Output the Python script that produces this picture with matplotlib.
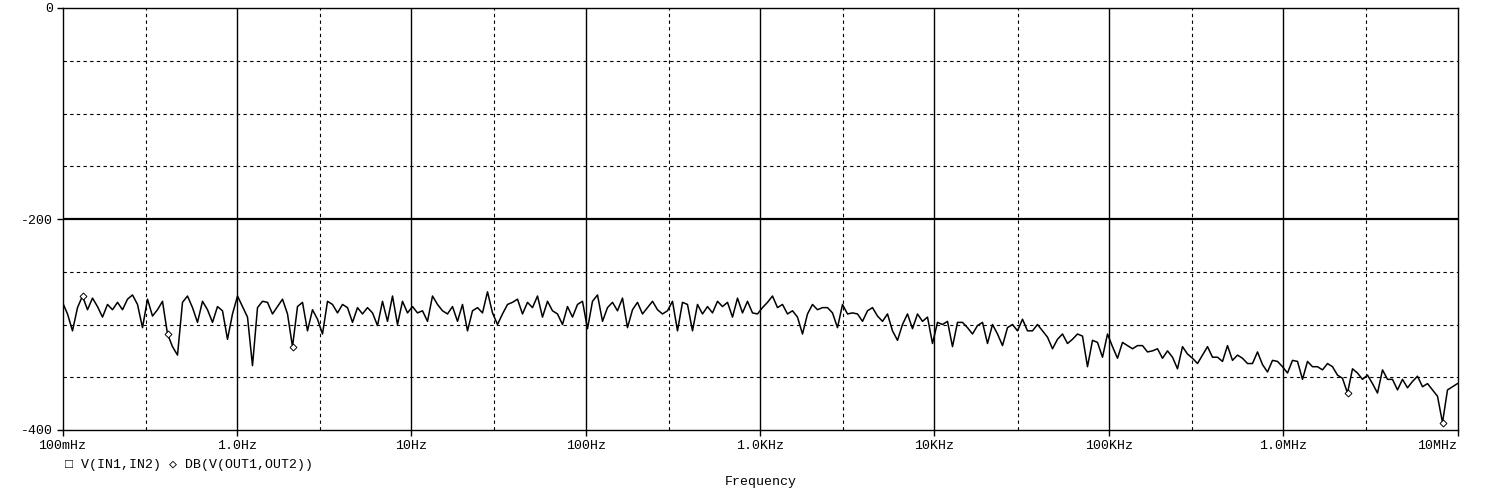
import numpy as np
import matplotlib
matplotlib.use('Agg')
import matplotlib.pyplot as plt
from matplotlib.ticker import NullLocator

# Trace values (dB) at even log-frequency steps, 100mHz .. 10MHz
mag_db = [
    # 100mHz - 1Hz
    -279, -290, -306, -284, -273, -286, -275, -283, -293, -281, -286, -279, -286, -276, -272,
    -281, -303, -276, -292, -286, -278, -309, -321, -329, -279, -273, -284, -298, -278, -286,
    -298, -283, -287, -314, -290,
    # 1Hz - 10Hz
    -273, -283, -293, -339, -284, -278, -279, -290, -283, -276, -290, -321, -283, -279, -306,
    -286, -295, -309, -278, -281, -289, -281, -284, -298, -284, -290, -284, -289, -301, -278,
    -297, -273, -300, -278, -289, -283,
    # 10Hz - 100Hz
    -289, -287, -297, -273, -281, -287, -290, -283, -297, -281, -306, -287, -284, -289, -269,
    -289, -300, -290, -281, -279, -276, -290, -279, -284, -273, -293, -278, -287, -290, -300,
    -283, -293, -281, -278, -304,
    # 100Hz - 1KHz
    -278, -272, -297, -284, -279, -287, -275, -303, -286, -279, -290, -284, -278, -286, -290,
    -287, -278, -306, -279, -281, -306, -281, -290, -283, -289, -278, -283, -279, -293, -275,
    -289, -278, -289, -290,
    # 1KHz - 10KHz
    -284, -279, -273, -284, -281, -290, -287, -293, -309, -290, -281, -286, -284, -284, -289,
    -303, -281, -290, -289, -290, -297, -287, -284, -292, -297, -290, -306, -315, -300, -290,
    -304, -290, -297, -293, -318,
    # 10KHz - 100KHz
    -298, -300, -297, -321, -298, -298, -303, -309, -301, -298, -318, -300, -309, -320, -303,
    -300, -306, -295, -306, -306, -300, -306, -312, -323, -314, -309, -318, -314, -309, -311,
    -340, -315, -317, -331, -309,
    # 100KHz - 1MHz
    -321, -332, -317, -320, -323, -320, -320, -326, -325, -323, -332, -325, -331, -342, -321,
    -328, -332, -337, -329, -321, -331, -331, -335, -320, -334, -329, -332, -337, -337, -326,
    -338, -345, -334, -335,
    # 1MHz - 10MHz
    -340, -346, -334, -335, -352, -335, -340, -340, -343, -337, -340, -348, -351, -365, -342,
    -346, -352, -348, -356, -365, -343, -352, -352, -362, -352, -360, -354, -349, -359, -356,
    -362, -368, -393, -362, -359, -356,
]
marker_idx = [4, 21, 46, 257, 276]

decades = [0.1, 1, 10, 100, 1e3, 1e4, 1e5, 1e6, 1e7]
decade_labels = ['100mHz', '1.0Hz', '10Hz', '100Hz', '1.0KHz', '10KHz', '100KHz', '1.0MHz', '10MHz']
third_decades = [0.3, 3, 30, 300, 3e3, 3e4, 3e5, 3e6]
y_ticks = [0, -200, -400]
y_dashed = [-50, -100, -150, -250, -300, -350]

mono = ['Liberation Mono', 'DejaVu Sans Mono']
plt.rcParams['font.family'] = mono
plt.rcParams['font.size'] = 9.5

W, H = 1487, 491
fig = plt.figure(figsize=(W / 100, H / 100), dpi=100)
ax = fig.add_axes([62.5 / W, 61 / H, 1395 / W, 422 / H])
ax.set_xscale('log')
ax.set_xlim(0.1, 1e7)
ax.set_ylim(-400, 0)

# grid
dash = (0, (3, 3))
for f in third_decades:
    ax.axvline(f, color='black', lw=0.8, ls=dash, zorder=1)
for f in decades[1:-1]:
    ax.axvline(f, color='black', lw=1.0, zorder=1)
for v in y_dashed:
    ax.axhline(v, color='black', lw=0.8, ls=dash, zorder=1)
ax.axhline(-200, color='black', lw=1.6, zorder=1)

freqs = np.logspace(-1, 7, len(mag_db))
ax.plot(freqs, mag_db, color='black', lw=1.1, zorder=3,
        marker='D', markevery=marker_idx, markersize=3.5,
        markerfacecolor='white', markeredgecolor='black', markeredgewidth=0.7)

ax.xaxis.set_minor_locator(NullLocator())
ax.set_xticks(decades)
ax.set_xticklabels(decade_labels)
ax.get_xticklabels()[-1].set_horizontalalignment('right')
ax.set_yticks(y_ticks)
ax.set_yticklabels([str(v) for v in y_ticks])
ax.tick_params(direction='out', length=4, width=1, pad=3, colors='black')
for s in ax.spines.values():
    s.set_color('black')
    s.set_linewidth(1.0)

fig.text(65 / W, 1 - 465 / H, '\u25a1 V(IN1,IN2) \u25c7 DB(V(OUT1,OUT2))',
         va='center', ha='left', family=mono, fontsize=9.5)
fig.text(761 / W, 1 - 482 / H, 'Frequency', va='center', ha='center', family=mono, fontsize=9.5)

fig.savefig('out.png', dpi=100, facecolor='white')
